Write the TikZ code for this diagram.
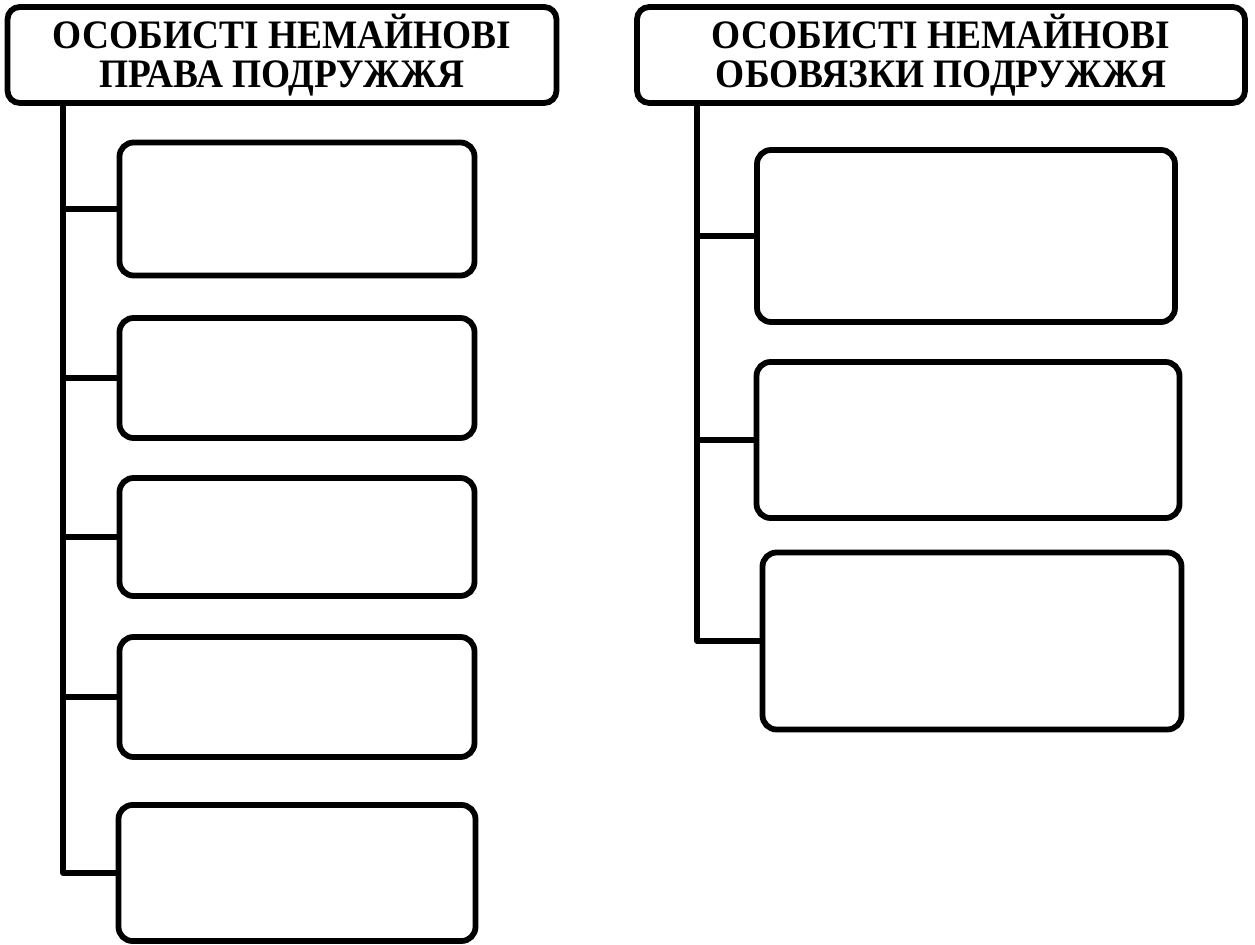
\documentclass[tikz,border=0pt]{standalone}
\usepackage{fontspec}
\setmainfont{Liberation Serif}
\newcommand{\hdrline}[1]{\scalebox{0.925}[1]{#1}}
\begin{document}
\begin{tikzpicture}[x=0.02cm, y=-0.02cm, line width=3.3pt,
    boxsize/.style 2 args={minimum width=#1*0.02cm, minimum height=#2*0.02cm},
    header/.style={rectangle, rounded corners=7pt, draw, fill=white, align=center,
        font=\fontsize{23}{22.2}\selectfont\bfseries, inner sep=0pt},
    itembox/.style={rectangle, rounded corners=8pt, draw, fill=white, inner sep=0pt},
    branch/.style={line cap=round, line join=round}]
    \useasboundingbox (0,0) rectangle (1255,945);

    % Draw nodes
    \node[header, boxsize={549}{96}] (hdrL) at (282,55)
        {\hdrline{ОСОБИСТІ НЕМАЙНОВІ}\\\hdrline{ПРАВА ПОДРУЖЖЯ}};
    \node[header, boxsize={608}{96}] (hdrR) at (941,55)
        {\hdrline{ОСОБИСТІ НЕМАЙНОВІ}\\\hdrline{ОБОВЯЗКИ ПОДРУЖЖЯ}};

    \node[itembox, boxsize={355}{133}] (pL1) at (297,209) {};
    \node[itembox, boxsize={355}{120}] (pL2) at (297,378) {};
    \node[itembox, boxsize={355}{118}] (pL3) at (297,537) {};
    \node[itembox, boxsize={355}{120}] (pL4) at (297,697) {};
    \node[itembox, boxsize={357}{136}] (pL5) at (297,873) {};

    \node[itembox, boxsize={418}{172}] (oR1) at (966,236) {};
    \node[itembox, boxsize={423}{156}] (oR2) at (968,440) {};
    \node[itembox, boxsize={419}{177}] (oR3) at (972,641) {};

    % Draw connections
    \coordinate (spineL) at (63,103);
    \coordinate (spineR) at (697,103);
    \draw[branch] (spineL) |- (pL5.west);
    \foreach \i in {1,...,4}
        \draw[branch] (spineL |- pL\i.west) -- (pL\i.west);
    \draw[branch] (spineR) |- (oR3.west);
    \foreach \i in {1,2}
        \draw[branch] (spineR |- oR\i.west) -- (oR\i.west);
\end{tikzpicture}
\end{document}
